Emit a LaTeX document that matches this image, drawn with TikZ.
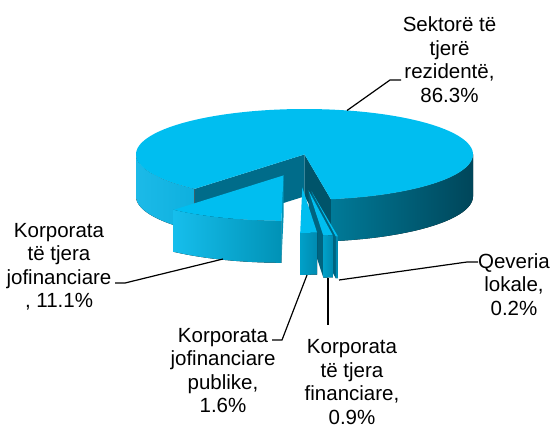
\documentclass[tikz,border=0pt]{standalone}
\usepackage{fontspec}
\setmainfont{Liberation Sans}
\definecolor{topc}{RGB}{0,190,240}
\definecolor{bandc}{RGB}{0,108,138}
\definecolor{facec}{RGB}{0,84,106}
\definecolor{rimLa}{RGB}{28,186,232}
\definecolor{rimLb}{RGB}{14,176,222}
\definecolor{rimRa}{RGB}{0,122,152}
\definecolor{rimRb}{RGB}{0,70,90}
\definecolor{midA}{RGB}{22,190,236}
\definecolor{midB}{RGB}{0,146,182}
\definecolor{smA}{RGB}{0,160,200}
\definecolor{smB}{RGB}{0,138,176}
\definecolor{smface}{RGB}{0,100,128}
\def\rx{168.5}\def\ry{45.4}\def\hh{42}
\newcommand\rimfill[5]{%
  \fill[#5] plot[domain=#3:#4,samples=90] ({#1+\rx*cos(\x)},{#2+\ry*sin(\x)})
    -- plot[domain=#4:#3,samples=90] ({#1+\rx*cos(\x)},{#2+\hh+\ry*sin(\x)}) -- cycle;}
\newcommand\topfill[5]{%
  \fill[#5] (#1,#2) -- plot[domain=#3:#4,samples=150] ({#1+\rx*cos(\x)},{#2+\ry*sin(\x)}) -- cycle;}
\newcommand\facefill[4]{%
  \fill[#4] (#1,#2) -- ({#1+\rx*cos(#3)},{#2+\ry*sin(#3)})
    -- ({#1+\rx*cos(#3)},{#2+\hh+\ry*sin(#3)}) -- (#1,#2+\hh) -- cycle;}
\begin{document}
\begin{tikzpicture}[x=1pt,y=-1pt,
  lbl/.style={align=center, inner sep=0pt, anchor=north, text=black,
    font=\fontsize{20.5}{23.5}\selectfont},
  lead/.style={line width=1.2pt, black}]
\useasboundingbox (0,0) rectangle (553,431);
% big slice 86.3%
\rimfill{304.5}{154.4}{130.68}{180}{left color=rimLa, right color=rimLb}
\rimfill{304.5}{154.4}{0}{81}{left color=rimRa, right color=rimRb}
\facefill{304.5}{154.4}{130.68}{bandc}
\facefill{304.5}{154.4}{81}{facec}
\topfill{304.5}{154.4}{130.68}{441}{topc}
% 11.1%
\rimfill{283.5}{175.4}{90.72}{130.68}{left color=midA, right color=midB}
\facefill{283.5}{175.4}{90.72}{midB}
\topfill{283.5}{175.4}{90.72}{130.68}{topc}
% 0.2%
\facefill{311.5}{191.4}{81.72}{smface}
\rimfill{311.5}{191.4}{81}{81.72}{smB}
\topfill{311.5}{191.4}{81}{81.72}{topc}
% 0.9%
\facefill{308.5}{190.4}{84.96}{smface}
\rimfill{308.5}{190.4}{81.72}{84.96}{left color=smA, right color=smB}
\topfill{308.5}{190.4}{81.72}{84.96}{topc}
% 1.6%
\rimfill{302.3}{187.4}{84.96}{90.72}{left color=smA, right color=smB}
\topfill{302.3}{187.4}{84.96}{90.72}{topc}
% labels
\node[lbl] (l1) at (449.5,16.7) {Sektorë të\\tjerë\\rezidentë,\\86.3\%};
\node[lbl] (l2) at (59,223) {Korporata\\të tjera\\jofinanciare\\, 11.1\%};
\node[lbl] (l3) at (514,253) {Qeveria\\lokale,\\0.2\%};
\node[lbl] (l4) at (223,328) {Korporata\\jofinanciare\\publike,\\1.6\%};
\node[lbl] (l5) at (352,339.5) {Korporata\\të tjera\\financiare,\\0.9\%};
% leader points
\coordinate (p1) at (347,110.5); \coordinate (q1) at (390,80); \coordinate (r1) at (401,80);
\coordinate (p2) at (223,259); \coordinate (q2) at (125,283); \coordinate (r2) at (115,283);
\coordinate (p3) at (339,280); \coordinate (q3) at (467,262); \coordinate (r3) at (478,262);
\coordinate (p4) at (307,275); \coordinate (q4) at (282,340); \coordinate (r4) at (272,340);
\coordinate (p5) at (328,278); \coordinate (q5) at (328,325);
\draw[lead] (p1) -- (q1) -- (r1);
\draw[lead] (p2) -- (q2) -- (r2);
\draw[lead] (p3) -- (q3) -- (r3);
\draw[lead] (p4) -- (q4) -- (r4);
\draw[lead] (p5) -- (q5);
\end{tikzpicture}
\end{document}
